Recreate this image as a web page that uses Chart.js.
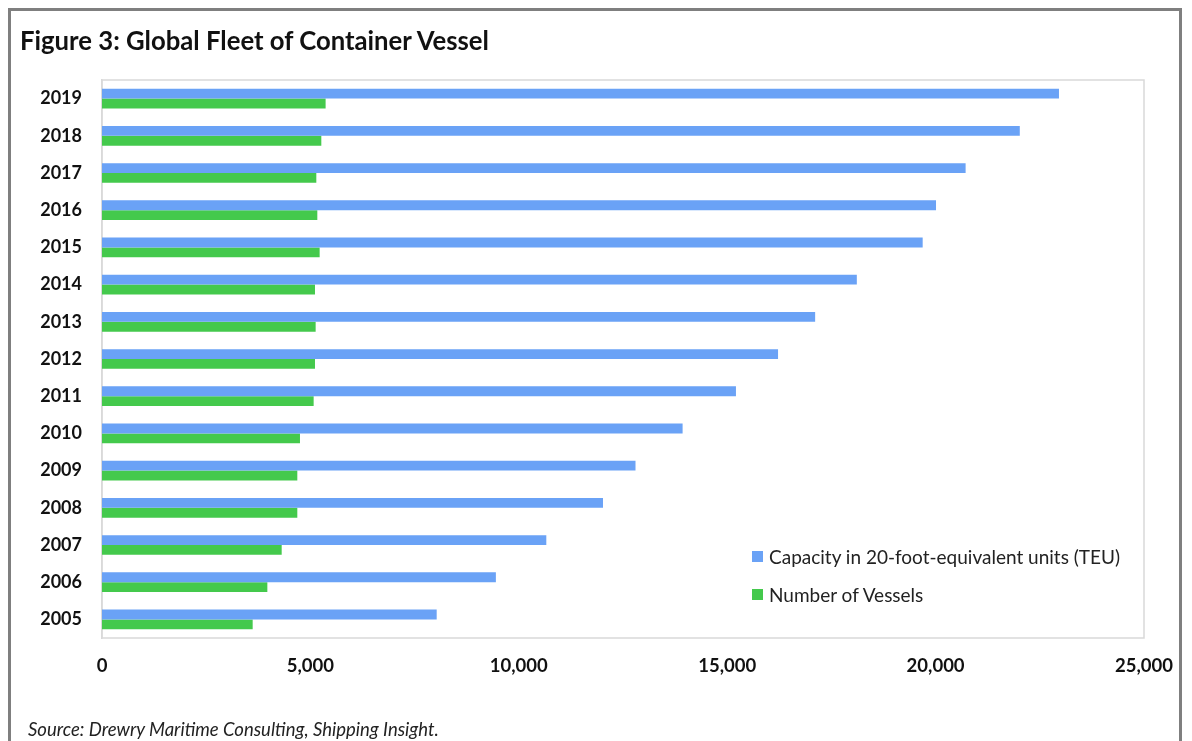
<!DOCTYPE html>
<html>
<head>
<meta charset="utf-8">
<script src="https://cdn.jsdelivr.net/npm/chart.js@4/dist/chart.umd.min.js"></script>
<style>
    html, body { margin: 0; padding: 0; background: #fff; }
    body { width: 1192px; height: 741px; position: relative; overflow: hidden; font-family: Lato, "Open Sans", sans-serif; }
    #frame { position: absolute; left: 8px; top: 8px; width: 1174px; height: 760px; border: 3px solid #7f7f7f; box-sizing: border-box; }
    #title { position: absolute; left: 20px; top: 25px; font-size: 25.7px; font-weight: bold; color: #111; }
    #source { position: absolute; left: 28px; top: 718px; font-size: 18.5px; font-style: italic; color: #222; }
    #legend { position: absolute; left: 752px; top: 537px; font-size: 19px; color: #222; }
    #legend div { height: 38px; display: flex; align-items: center; }
    #legend span.box { display: inline-block; width: 11px; height: 11px; margin-right: 6px; }
    canvas { position: absolute; left: 0; top: 0; }
</style>
</head>
<body>
<div id="frame"></div>
<canvas id="myChart" width="1192" height="741"></canvas>
<div id="title">Figure 3: Global Fleet of Container Vessel</div>
<div id="legend"></div>
<div id="source">Source: Drewry Maritime Consulting, Shipping Insight.</div>
<script>
// years listed top to bottom as shown
const years = ['2019', '2018', '2017', '2016', '2015', '2014', '2013', '2012', '2011', '2010', '2009', '2008', '2007', '2006', '2005'];
const capacityTEU = [22960, 22020, 20720, 20010, 19690, 18110, 17110, 16220, 15210, 13930, 12800, 12020, 10660, 9450, 8030];
const vessels = [5365, 5262, 5142, 5166, 5222, 5110, 5126, 5110, 5078, 4750, 4686, 4686, 4311, 3967, 3615];
const seriesNames = ['Capacity in 20-foot-equivalent units (TEU)', 'Number of Vessels'];
const colors = ['#6aa2f6', '#44c94c'];

const plotBorder = {
    id: 'plotBorder',
    beforeDatasetsDraw(chart) {
        const a = chart.chartArea;
        const ctx = chart.ctx;
        ctx.save();
        ctx.strokeStyle = '#d9d9d9';
        ctx.lineWidth = 1.5;
        ctx.strokeRect(a.left, a.top, a.right - a.left, a.bottom - a.top);
        ctx.restore();
    }
};

const data = {
    labels: years,
    datasets: [{
            label: seriesNames[0],
            data: capacityTEU,
            backgroundColor: colors[0],
            barPercentage: 1,
            categoryPercentage: 0.53
        }, {
            label: seriesNames[1],
            data: vessels,
            backgroundColor: colors[1],
            barPercentage: 1,
            categoryPercentage: 0.53
        }]
};

const config = {
    type: 'bar',
    data: data,
    options: {
        indexAxis: 'y',
        responsive: false,
        animation: false,
        layout: {
            padding: {left: 0, top: 80, right: 48, bottom: 0}
        },
        plugins: {
            legend: {display: false},
            tooltip: {enabled: false}
        },
        scales: {
            x: {
                min: 0,
                max: 25000,
                ticks: {
                    stepSize: 5000,
                    color: '#111',
                    padding: 9,
                    font: {family: 'Lato', size: 18.5, weight: 'bold'},
                    callback: v => v.toLocaleString('en-US')
                },
                grid: {display: false},
                border: {display: false},
                afterFit: s => { s.height = 103; }
            },
            y: {
                ticks: {
                    color: '#111',
                    padding: 12,
                    font: {family: 'Lato', size: 18, weight: 'bold'}
                },
                grid: {display: false},
                border: {display: true, color: '#d9d9d9', width: 1.5},
                afterFit: s => { s.width = 102; }
            }
        }
    },
    plugins: [plotBorder]
};

let ctx = document.getElementById('myChart').getContext('2d');
new Chart(ctx, config);

let legend = document.getElementById('legend');
for (let i = 0; i < seriesNames.length; i++) {
    let row = document.createElement('div');
    row.innerHTML = '<span class="box" style="background:' + colors[i] + '"></span>' + seriesNames[i];
    legend.appendChild(row);
}
</script>
</body>
</html>
